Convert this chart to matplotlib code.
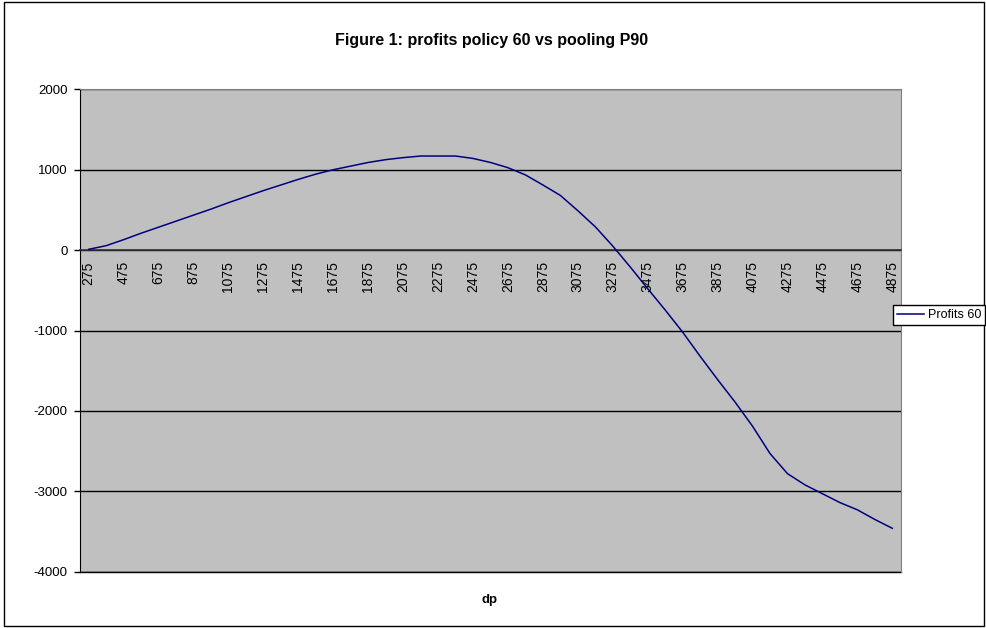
import matplotlib
matplotlib.use("Agg")
import matplotlib.pyplot as plt
from matplotlib.patches import Rectangle
from matplotlib.lines import Line2D

# dp categories and profits for policy 60
dp = [275, 375, 475, 575, 675, 775, 875, 975, 1075, 1175,
      1275, 1375, 1475, 1575, 1675, 1775, 1875, 1975, 2075, 2175,
      2275, 2375, 2475, 2575, 2675, 2775, 2875, 2975, 3075, 3175,
      3275, 3375, 3475, 3575, 3675, 3775, 3875, 3975, 4075, 4175,
      4275, 4375, 4475, 4575, 4675, 4775, 4875]
profits_60 = [10, 55, 130, 210, 285, 360, 435, 510, 590, 665,
              740, 810, 880, 945, 1000, 1045, 1090, 1125, 1150, 1170,
              1170, 1170, 1140, 1090, 1025, 935, 810, 680, 490, 290,
              50, -210, -480, -745, -1020, -1320, -1610, -1890, -2190, -2530,
              -2780, -2920, -3030, -3140, -3230, -3350, -3460]
y_ticks = [-4000, -3000, -2000, -1000, 0, 1000, 2000]

plt.rcParams['font.family'] = ['Liberation Sans', 'DejaVu Sans']

W, H = 987, 628
fig = plt.figure(figsize=(W / 100, H / 100), dpi=100)
fig.patch.set_facecolor('white')

# outer chart frame
fig.patches.append(Rectangle((4 / W, 2 / H), 980 / W, 624 / H, transform=fig.transFigure,
                             fill=False, edgecolor='black', lw=1, zorder=0))

left, right = 80 / W, 901 / W
bottom, top = 1 - 571.7 / H, 1 - 89.3 / H
ax = fig.add_axes([left, bottom, right - left, top - bottom])
ax.set_facecolor('#C0C0C0')

x = list(range(len(dp)))
ax.plot(x, profits_60, color='#000080', lw=1.1, zorder=3)

ax.set_xlim(-0.5, len(dp) - 0.5)
ax.set_ylim(-4000, 2000)
ax.set_yticks(y_ticks)
ax.set_yticklabels([str(v) for v in y_ticks], fontsize=9.5)
ax.yaxis.grid(True, color='black', lw=1)
ax.set_axisbelow(True)
ax.tick_params(axis='y', direction='out', length=4, width=1, color='black', pad=5)

# category axis crosses at zero
ax.spines['bottom'].set_position(('data', 0))
ax.spines['bottom'].set_color('#333333')
ax.spines['bottom'].set_linewidth(1.2)
ax.set_xticks(x[::2])
ax.set_xticklabels([str(v) for v in dp[::2]], rotation=90, fontsize=10, va='top')
ax.tick_params(axis='x', length=0, pad=8)

ax.spines['left'].set_color('black')
ax.spines['top'].set_color('#808080')
ax.spines['right'].set_color('#808080')
ax.axhline(-4000, color='black', lw=1, clip_on=False, zorder=2)

fig.text(492 / W, 1 - 40 / H, 'Figure 1: profits policy 60 vs pooling P90',
         ha='center', va='center', fontsize=11.5, fontweight='bold',
         family=['Liberation Sans Narrow', 'Liberation Sans'])
fig.text(490 / W, 1 - 600 / H, 'dp', ha='center', va='center',
         fontsize=9.5, fontweight='bold')

handle = Line2D([], [], color='#000080', lw=1.1)
leg = fig.legend([handle], ['Profits 60'], loc='center left',
                 bbox_to_anchor=(893 / W, 1 - 315 / H), borderaxespad=0,
                 fancybox=False, edgecolor='black', framealpha=1,
                 fontsize=9, handlelength=2.2, handletextpad=0.3,
                 borderpad=0.3)
leg.get_frame().set_linewidth(1)

fig.savefig('out.png', dpi=100, facecolor='white')
